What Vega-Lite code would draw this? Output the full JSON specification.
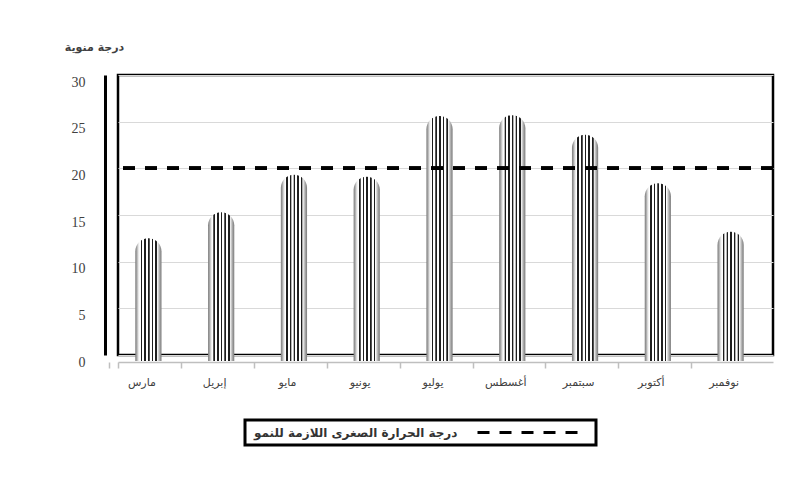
{
  "$schema": "https://vega.github.io/schema/vega-lite/v6.json",
  "autosize": {"type": "none"},
  "width": 655,
  "height": 280,
  "padding": {"left": 118, "top": 75, "right": 25, "bottom": 126},
  "background": "white",
  "data": {
    "values": [
      {"month": "مارس", "temp": 12.5},
      {"month": "إبريل", "temp": 15.3},
      {"month": "مايو", "temp": 19.3},
      {"month": "يونيو", "temp": 19.1},
      {"month": "يوليو", "temp": 25.6},
      {"month": "أغسطس", "temp": 25.7},
      {"month": "سبتمبر", "temp": 23.6},
      {"month": "أكتوبر", "temp": 18.4},
      {"month": "نوفمبر", "temp": 13.2}
    ]
  },
  "layer": [
    {
      "mark": {
        "type": "bar",
        "width": {"band": 0.4},
        "xOffset": -6,
        "y2Offset": 6,
        "cornerRadiusTopLeft": 14,
        "cornerRadiusTopRight": 14,
        "stroke": null,
        "fill": {
          "gradient": "linear",
          "x1": 0, "y1": 0, "x2": 1, "y2": 0,
          "stops": [
            {"offset": 0, "color": "#7a7a7a"},
            {"offset": 0.06, "color": "#a8a8a8"},
            {"offset": 0.12, "color": "#e6e6e6"},
            {"offset": 0.17, "color": "#ffffff"},
            {"offset": 0.2, "color": "#ffffff"},
            {"offset": 0.21, "color": "#1e1e1e"},
            {"offset": 0.26, "color": "#1e1e1e"},
            {"offset": 0.27, "color": "#ffffff"},
            {"offset": 0.34, "color": "#ffffff"},
            {"offset": 0.35, "color": "#1e1e1e"},
            {"offset": 0.4, "color": "#1e1e1e"},
            {"offset": 0.41, "color": "#ffffff"},
            {"offset": 0.48, "color": "#ffffff"},
            {"offset": 0.49, "color": "#1e1e1e"},
            {"offset": 0.54, "color": "#1e1e1e"},
            {"offset": 0.55, "color": "#ffffff"},
            {"offset": 0.62, "color": "#ffffff"},
            {"offset": 0.63, "color": "#1e1e1e"},
            {"offset": 0.68, "color": "#1e1e1e"},
            {"offset": 0.69, "color": "#ffffff"},
            {"offset": 0.76, "color": "#ffffff"},
            {"offset": 0.77, "color": "#1e1e1e"},
            {"offset": 0.82, "color": "#1e1e1e"},
            {"offset": 0.83, "color": "#ffffff"},
            {"offset": 0.86, "color": "#e6e6e6"},
            {"offset": 0.93, "color": "#a8a8a8"},
            {"offset": 1, "color": "#7a7a7a"}
          ]
        }
      },
      "encoding": {
        "x": {
          "field": "month",
          "type": "nominal",
          "sort": null,
          "title": null,
          "axis": {
            "orient": "bottom",
            "offset": 7,
            "bandPosition": 0,
            "tickExtra": true,
            "tickOffset": -13,
            "ticks": true,
            "tickSize": 6,
            "tickColor": "#bfbfbf",
            "tickWidth": 1.5,
            "domainColor": "#bfbfbf",
            "domainWidth": 1.5,
            "labelAngle": 0,
            "labelFont": "DejaVu Sans",
            "labelFontSize": 11,
            "labelColor": "#404040",
            "labelPadding": 8,
            "grid": false
          }
        },
        "y": {
          "field": "temp",
          "type": "quantitative",
          "scale": {"domain": [0, 30], "nice": false},
          "axis": {
            "title": "درجة منوية",
            "titleAngle": 0,
            "titleX": -11,
            "titleY": -28,
            "titleAlign": "center",
            "titleBaseline": "middle",
            "titleFont": "DejaVu Sans",
            "titleFontSize": 11,
            "titleFontWeight": "bold",
            "titleColor": "#404040",
            "values": [0, 5, 10, 15, 20, 25, 30],
            "offset": 13,
            "labelOffset": 7,
            "ticks": false,
            "labelPadding": 20,
            "labelFont": "Liberation Serif",
            "labelFontSize": 14,
            "labelColor": "#404040",
            "domainColor": "black",
            "domainWidth": 3,
            "grid": true,
            "gridColor": "#d9d9d9",
            "gridWidth": 1
          }
        },
        "y2": {"datum": 0}
      }
    },
    {
      "mark": {"type": "rule", "strokeDash": [12, 10], "strokeWidth": 3},
      "encoding": {
        "y": {"datum": 20, "type": "quantitative"},
        "color": {
          "datum": "درجة الحرارة الصغرى اللازمة للنمو",
          "type": "nominal",
          "scale": {"range": ["black"]},
          "legend": {
            "title": null,
            "orient": "none",
            "legendX": 127,
            "legendY": 345,
            "padding": 6,
            "strokeColor": "black",
            "symbolType": "M 44,0 L 65.3,0",
            "symbolSize": 100,
            "symbolStrokeWidth": 3,
            "symbolDash": [12, 10],
            "symbolFillColor": "transparent",
            "symbolStrokeColor": "black",
            "labelOffset": -10,
            "labelFont": "DejaVu Sans",
            "labelFontSize": 12,
            "labelFontWeight": "bold",
            "labelColor": "#333333",
            "labelLimit": 400
          }
        }
      }
    }
  ],
  "config": {
    "view": {"stroke": "black", "strokeWidth": 2.5},
    "legend": {"strokeWidth": 3}
  }
}
